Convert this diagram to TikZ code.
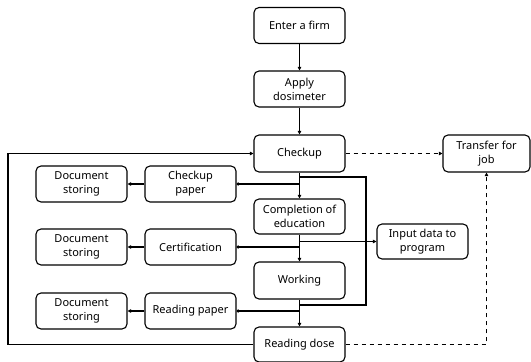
\documentclass[tikz,border=0pt]{standalone}
\usepackage{fontspec}
\setmainfont{Noto Sans}
\usetikzlibrary{arrows.meta}
\begin{document}
\begin{tikzpicture}[x=1pt,y=-1pt,
  box/.style={draw, line width=1.1pt, rounded corners=5pt, align=center,
    minimum width=91pt, minimum height=36pt, inner sep=1pt,
    font=\fontsize{11}{14}\selectfont},
  conn/.style={line width=1.1pt},
  arr/.style={conn, -{Triangle[length=3.5pt,width=3.5pt]}},
  dotend/.style={conn, -{Circle[length=3.2pt]}},
  dashconn/.style={arr, dash pattern=on 4.5pt off 3.5pt}]
\useasboundingbox (0,0) rectangle (531,362);
\node[box] (enter) at (299.5,25.5) {Enter a firm};
\node[box] (apply) at (299.5,89) {Apply\\dosimeter};
\node[box, minimum height=37pt] (checkup) at (299.5,153.5) {Checkup};
\node[box, minimum width=87pt, minimum height=37pt] (transfer) at (486.5,153.5) {Transfer for\\job};
\node[box] (cpaper) at (190.5,184) {Checkup\\paper};
\node[box] (ds1) at (81.5,184) {Document\\storing};
\node[box, minimum height=35pt] (compl) at (299.5,216.5) {Completion of\\education};
\node[box, minimum height=35pt] (input) at (422.5,241.5) {Input data to\\program};
\node[box] (cert) at (190.5,247) {Certification};
\node[box] (ds2) at (81.5,247) {Document\\storing};
\node[box, minimum height=37pt] (working) at (299.5,280.5) {Working};
\node[box] (rpaper) at (190.5,311) {Reading paper};
\node[box] (ds3) at (81.5,311) {Document\\storing};
\node[box, minimum height=35pt] (rdose) at (299.5,344.5) {Reading dose};
% coordinates
\coordinate (b1) at (299.5,177);
\coordinate (b2) at (366,305);
\coordinate (b3) at (299.5,305);
\coordinate (lp) at (8,344.5);
% main flow
\draw[arr] (enter) -- (apply);
\draw[arr] (apply) -- (checkup);
\draw[arr] (checkup) -- (compl);
\draw[arr] (compl) -- (working);
\draw[arr] (working) -- (rdose);
\draw[dashconn] (checkup) -- (transfer);
% bypass
\draw[conn] (b1) -| (b2) -- (b3);
% branches
\draw[dotend] (checkup.south |- cpaper.east) -- (cpaper.east);
\draw[dotend] (compl.south |- cert.east) -- (cert.east);
\draw[dotend] (working.south |- rpaper.east) -- (rpaper.east);
\draw[arr] (compl.south |- input.west) -- (input.west);
\draw[arr] (cpaper) -- (ds1);
\draw[arr] (cert) -- (ds2);
\draw[arr] (rpaper) -- (ds3);
% loops
\draw[arr] (rdose.west) -- (lp) |- (checkup.west);
\draw[dashconn] (rdose.east) -| (transfer.south);
\end{tikzpicture}
\end{document}
